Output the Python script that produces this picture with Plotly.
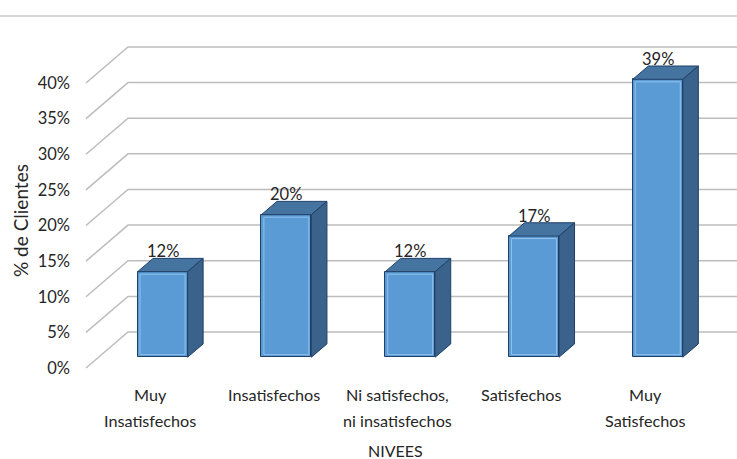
import plotly.graph_objects as go

# ---- data -------------------------------------------------------------
niveles = [
    ["Muy", "Insatisfechos"],
    ["Insatisfechos"],
    ["Ni satisfechos,", "ni insatisfechos"],
    ["Satisfechos"],
    ["Muy", "Satisfechos"],
]
porcentajes = [12, 20, 12, 17, 39]
y_ticks = [0, 5, 10, 15, 20, 25, 30, 35, 40]
y_tick_text = [f"{v}%" for v in y_ticks]
x_title = "NIVEES"
y_title = "% de Clientes"

# ---- geometry of the pseudo-3D frame ----------------------------------
W, H = 737, 459
M_L, M_R, M_T, M_B = 80, 0, 0, 84
PX_PER_CAT = 123.8          # horizontal pixels per category
CAT0_PX = 150               # pixel column of category 0 on the front plane
PX_PER_PCT = 7.125          # vertical pixels per percentage point
ZERO_PX = 368               # pixel row of 0% on the front plane

x_range = [(M_L - CAT0_PX) / PX_PER_CAT, (W - M_R - CAT0_PX) / PX_PER_CAT]
y_range = [-(H - M_B - ZERO_PX) / PX_PER_PCT, (ZERO_PX - M_T) / PX_PER_PCT]

WALL_DX = 42 / PX_PER_CAT    # depth of the back wall in x units
WALL_DY = 36 / PX_PER_PCT    # depth of the back wall in y units
FRONT_F, BACK_F = 0.30, 0.67  # bar depth as fraction of wall depth
BAR_W = 50 / PX_PER_CAT

plot_w = W - M_L - M_R
plot_h = H - M_T - M_B


def paper_y(px):
    return (H - M_B - px) / plot_h


def paper_x(px):
    return (px - M_L) / plot_w


FONT = "Lato, 'Open Sans', sans-serif"
TXT = "#262626"
GRID = "#bdbdbd"
FRONT = "#5b9bd5"
TOP = "#44749f"
SIDE = "#3a628b"
EDGE = "#1f3f68"

fig = go.Figure()

shapes = []

# perspective gridlines: diagonal on the side wall, flat on the back wall
x_left = -(CAT0_PX - 86) / PX_PER_CAT
for v in y_ticks:
    shapes.append(dict(
        type="path", xref="x", yref="y", layer="below",
        path=(f"M {x_left},{v} L {x_left + WALL_DX},{v + WALL_DY} "
              f"L {x_range[1] + 1},{v + WALL_DY}"),
        line=dict(color=GRID, width=1.5),
    ))

# front faces of the bars
fdx, fdy = FRONT_F * WALL_DX, FRONT_F * WALL_DY
ddx, ddy = (BACK_F - FRONT_F) * WALL_DX, (BACK_F - FRONT_F) * WALL_DY
centres = [i + fdx for i in range(len(porcentajes))]

fig.add_trace(go.Bar(
    x=centres, y=porcentajes, base=[fdy] * len(porcentajes), width=BAR_W,
    marker=dict(color=FRONT, line=dict(color=EDGE, width=1)),
    hoverinfo="skip", showlegend=False,
))

# top and side faces plus a light bevel on each front face
for cx, v in zip(centres, porcentajes):
    x0, x1 = cx - BAR_W / 2, cx + BAR_W / 2
    y0, y1 = fdy, fdy + v
    shapes.append(dict(
        type="path", xref="x", yref="y", layer="above",
        path=(f"M {x0},{y1} L {x1},{y1} L {x1 + ddx},{y1 + ddy} "
              f"L {x0 + ddx},{y1 + ddy} Z"),
        fillcolor=TOP, line=dict(color=EDGE, width=1),
    ))
    shapes.append(dict(
        type="path", xref="x", yref="y", layer="above",
        path=(f"M {x1},{y0} L {x1 + ddx},{y0 + ddy} L {x1 + ddx},{y1 + ddy} "
              f"L {x1},{y1} Z"),
        fillcolor=SIDE, line=dict(color=EDGE, width=1),
    ))
    ix, iy = 2.5 / PX_PER_CAT, 2.5 / PX_PER_PCT
    shapes.append(dict(
        type="rect", xref="x", yref="y", layer="above",
        x0=x0 + ix, x1=x1 - ix, y0=y0 + iy, y1=y1 - iy,
        line=dict(color="#8fc0ea", width=1), fillcolor="rgba(0,0,0,0)",
    ))

# outer frame edge along the top
shapes.append(dict(
    type="line", xref="paper", yref="paper",
    x0=paper_x(0), x1=1, y0=paper_y(16), y1=paper_y(16),
    line=dict(color="#c8c8c8", width=1.5),
))

annotations = []

# value labels above each bar
for cx, v in zip(centres, porcentajes):
    annotations.append(dict(
        x=cx, y=fdy + v + ddy, xref="x", yref="y",
        text=f"{v}%", showarrow=False, yanchor="middle", yshift=7,
        font=dict(family=FONT, size=16.5, color=TXT),
    ))

# category labels under the floor
for i, lines in enumerate(niveles):
    for k, line in enumerate(lines):
        annotations.append(dict(
            x=i, y=paper_y(394 + 26.5 * k), xref="x", yref="paper",
            text=line, showarrow=False, yanchor="middle",
            font=dict(family=FONT, size=16.2, color=TXT),
        ))

# axis titles
annotations.append(dict(
    x=(395 - CAT0_PX) / PX_PER_CAT, y=paper_y(450), xref="x", yref="paper",
    text=x_title, showarrow=False, yanchor="middle",
    font=dict(family=FONT, size=16, color=TXT),
))
annotations.append(dict(
    x=paper_x(21), y=paper_y(221), xref="paper", yref="paper",
    text=y_title, showarrow=False, textangle=-90,
    xanchor="center", yanchor="middle",
    font=dict(family=FONT, size=19, color=TXT),
))

fig.update_layout(
    width=W, height=H,
    margin=dict(l=M_L, r=M_R, t=M_T, b=M_B, pad=0),
    paper_bgcolor="white", plot_bgcolor="white",
    shapes=shapes, annotations=annotations,
    xaxis=dict(range=x_range, showgrid=False, zeroline=False,
               showticklabels=False, showline=False, fixedrange=True),
    yaxis=dict(range=y_range, showgrid=False, zeroline=False,
               showline=False, tickvals=y_ticks, ticktext=y_tick_text,
               ticks="", ticklabelstandoff=9,
               tickfont=dict(family=FONT, size=16.5, color=TXT),
               fixedrange=True),
    bargap=0,
)

fig.write_html("out.html")
